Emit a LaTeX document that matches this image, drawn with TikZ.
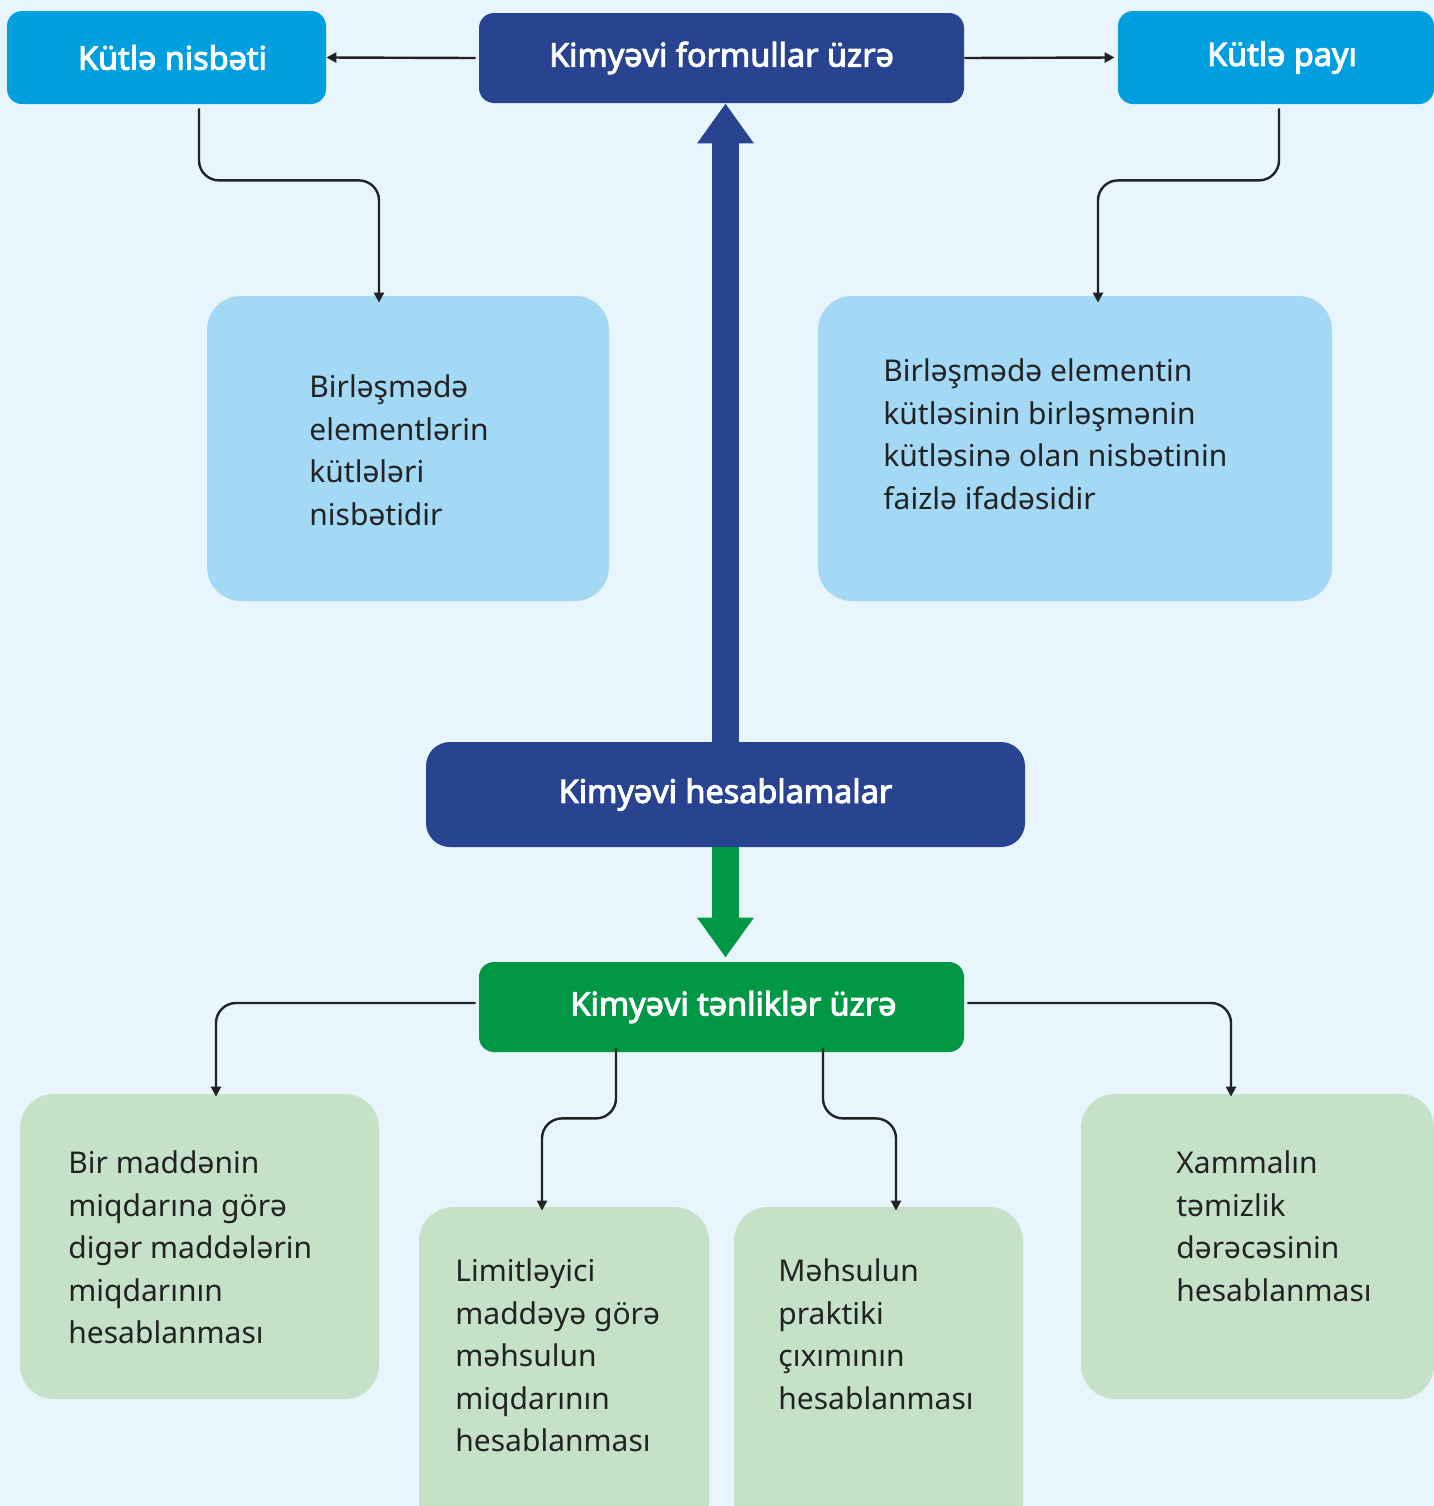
\documentclass[tikz,border=0pt]{standalone}
\usepackage{fontspec}
\setmainfont{Noto Sans}[BoldFont={Noto Sans}, BoldFeatures={FakeBold=3}]
\usetikzlibrary{arrows.meta, positioning, calc}
\definecolor{bgblue}{HTML}{E8F5FD}
\definecolor{kcyan}{HTML}{009FE0}
\definecolor{kdark}{HTML}{28438F}
\definecolor{kgreen}{HTML}{009845}
\definecolor{klight}{HTML}{A3D9F5}
\definecolor{kpale}{HTML}{C5E2C9}
\definecolor{ktext}{HTML}{222222}

\begin{document}
\begin{tikzpicture}[x=0.5pt, y=-0.5pt,
  headbox/.style={rounded corners=7.5pt, inner sep=0pt, text=white, font=\bfseries\fontsize{16.2}{19}\selectfont},
  defbox/.style={fill=klight, rounded corners=17pt, inner sep=0pt},
  calcbox/.style={fill=kpale, rounded corners=17pt, inner sep=0pt},
  bodytxt/.style={align=left, anchor=west, inner sep=0pt, text=ktext, font=\fontsize{15}{21.25}\selectfont},
  conn/.style={draw=ktext, line width=1.2pt, rounded corners=10pt, -{Triangle[length=5pt,width=5pt]}},
  bigarrow/.style={line width=13.5pt, -{Triangle[length=20pt,width=27pt]}}
]
% Background
\clip (0,0) rectangle (1434,1506);
\fill[bgblue] (0,0) rectangle (1434,1506);

% Top row
\node[headbox, fill=kcyan, minimum width=159.5pt, minimum height=46.5pt] (nisbeti) at (166.5,57.5) {\hspace{6pt}Kütlə nisbəti};
\node[headbox, fill=kdark, minimum width=242.5pt, minimum height=45pt] (formul) at (721.5,58) {Kimyəvi formullar üzrə};
\node[headbox, fill=kcyan, minimum width=158pt, minimum height=46.5pt] (payi) at (1276,57.5) {\hspace{6pt}Kütlə payı};

% Definitions
\node[defbox, minimum width=201pt, minimum height=152.5pt] (def1) at (408,448.5) {};
\node[defbox, minimum width=257pt, minimum height=152.5pt] (def2) at (1075,448.5) {};
\node[bodytxt] (def1t) at (309,450) {Birləşmədə\\elementlərin\\kütlələri\\nisbətidir};
\node[bodytxt] (def2t) at (883,434) {Birləşmədə elementin\\kütləsinin birləşmənin\\kütləsinə olan nisbətinin\\faizlə ifadəsidir};

% Centre
\node[headbox, fill=kdark, rounded corners=12pt, minimum width=299.5pt, minimum height=52.5pt] (hesab) at (725.5,794.5) {Kimyəvi hesablamalar};
\node[headbox, fill=kgreen, minimum width=242.5pt, minimum height=45pt] (tenlik) at (721.5,1007) {\hspace{12pt}Kimyəvi tənliklər üzrə};

% Bottom row
\node[calcbox, minimum width=179.5pt, minimum height=152.5pt] (b1) at (199.5,1246.5) {};
\node[calcbox, minimum width=145pt, minimum height=165pt] (b2) at (564,1372) {};
\node[calcbox, minimum width=144.5pt, minimum height=165pt] (b3) at (878.5,1372) {};
\node[calcbox, minimum width=176.5pt, minimum height=152.5pt] (b4) at (1257.5,1246.5) {};
\node[bodytxt] (b1t) at (68,1247.5) {Bir maddənin\\miqdarına görə\\digər maddələrin\\miqdarının\\hesablanması};
\node[bodytxt] (b2t) at (455,1355.5) {Limitləyici\\maddəyə görə\\məhsulun\\miqdarının\\hesablanması};
\node[bodytxt] (b3t) at (778,1334) {Məhsulun\\praktiki\\çıxımının\\hesablanması};
\node[bodytxt] (b4t) at (1176,1226) {Xammalın\\təmizlik\\dərəcəsinin\\hesablanması};

% Big arrows
\draw[bigarrow, kdark] (hesab.north) -- (hesab.north |- formul.south);
\draw[bigarrow, kgreen, shorten >=2pt] (hesab.south) -- (hesab.south |- tenlik.north);

% Connectors
\draw[conn] ([xshift=-1.5pt]formul.west) -- (nisbeti.east);
\draw[conn] ([xshift=0pt]formul.east) -- ([xshift=-1.5pt]payi.west);
\draw[conn] ([xshift=16.25pt,yshift=-2pt]nisbeti.south) -- ++(0,72) -| ([xshift=-14.5pt,yshift=-3.5pt]def1.north);
\draw[conn] ([xshift=1.5pt,yshift=-2pt]payi.south) -- ++(0,72) -| ([xshift=11.5pt,yshift=-3.5pt]def2.north);
\draw[conn] ([xshift=-1.5pt,yshift=2pt]tenlik.west) -| ([xshift=8.25pt,yshift=-1.5pt]b1.north);
\draw[conn] ([xshift=-52.75pt,yshift=2pt]tenlik.south) -- ++(0,70) -| ([xshift=-11pt,yshift=-2pt]b2.north);
\draw[conn] ([xshift=50.75pt,yshift=2pt]tenlik.south) -- ++(0,70) -| ([xshift=8.75pt,yshift=-2pt]b3.north);
\draw[conn] ([xshift=1.5pt,yshift=2pt]tenlik.east) -| ([xshift=-13.25pt,yshift=-1.5pt]b4.north);
\end{tikzpicture}
\end{document}
